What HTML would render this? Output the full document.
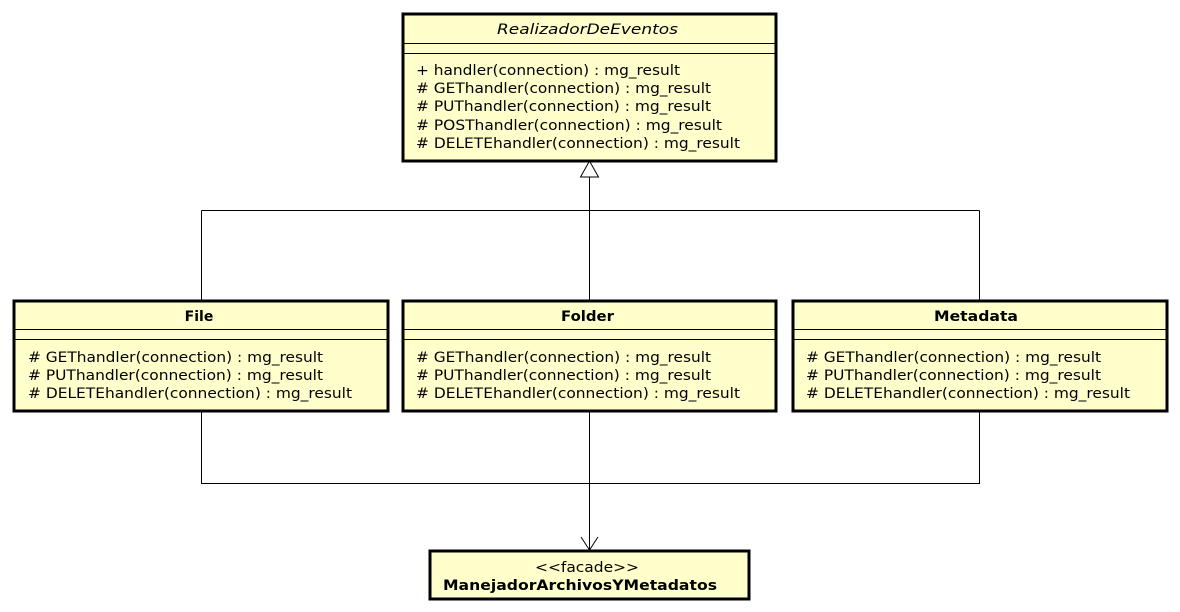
<!DOCTYPE html>
<html><head><meta charset="utf-8"><style>
html,body{margin:0;padding:0;background:#fff;}
svg{display:block;}
text{font-family:"DejaVu Sans","Liberation Sans",sans-serif;font-size:14px;fill:#000;}
.b{font-weight:bold;}
</style></head><body>
<svg width="1180" height="612" xmlns="http://www.w3.org/2000/svg">
<g fill="none" stroke="#000" stroke-width="1">
<path d="M589.5 177V210.5M201.5 210.5H979.5M201.5 210.5V300M589.5 210.5V300M979.5 210.5V300"/>
<path d="M201.5 411V483.5H979.5V411M589.5 411V550"/>
<path d="M581 537L589.5 550L598 537"/>
</g>
<polygon points="589.5,161 580.5,177 598.5,177" fill="#fff" stroke="#000"/>
<g fill="#ffffcc" stroke="#000" stroke-width="3">
<rect x="403" y="14" width="373" height="147"/>
<rect x="14" y="301" width="374" height="110"/>
<rect x="403" y="301" width="373" height="110"/>
<rect x="793" y="301" width="374" height="110"/>
<rect x="430" y="551" width="319" height="48"/>
</g>
<g stroke="#000" stroke-width="1">
<path d="M403 43.5H776M403 53.5H776"/>
<path d="M14 329.5H388M14 339.5H388M403 329.5H776M403 339.5H776M793 329.5H1167M793 339.5H1167"/>
</g>
<text x="497" y="34" font-style="italic" textLength="181" lengthAdjust="spacingAndGlyphs">RealizadorDeEventos</text>
<text x="416" y="75" textLength="264" lengthAdjust="spacingAndGlyphs">+ handler(connection) : mg_result</text>
<text x="416" y="93" textLength="295" lengthAdjust="spacingAndGlyphs">#&#160;GEThandler(connection) : mg_result</text>
<text x="416" y="111" textLength="295" lengthAdjust="spacingAndGlyphs">#&#160;PUThandler(connection) : mg_result</text>
<text x="416" y="130" textLength="306" lengthAdjust="spacingAndGlyphs">#&#160;POSThandler(connection) : mg_result</text>
<text x="416" y="148" textLength="324" lengthAdjust="spacingAndGlyphs">#&#160;DELETEhandler(connection) : mg_result</text>

<text x="199" y="321" class="b" text-anchor="middle">File</text>
<text x="28" y="362" textLength="295" lengthAdjust="spacingAndGlyphs">#&#160;GEThandler(connection) : mg_result</text>
<text x="28" y="380" textLength="295" lengthAdjust="spacingAndGlyphs">#&#160;PUThandler(connection) : mg_result</text>
<text x="28" y="398" textLength="324" lengthAdjust="spacingAndGlyphs">#&#160;DELETEhandler(connection) : mg_result</text>

<text x="561" y="321" class="b" textLength="53" lengthAdjust="spacingAndGlyphs">Folder</text>
<text x="416" y="362" textLength="295" lengthAdjust="spacingAndGlyphs">#&#160;GEThandler(connection) : mg_result</text>
<text x="416" y="380" textLength="295" lengthAdjust="spacingAndGlyphs">#&#160;PUThandler(connection) : mg_result</text>
<text x="416" y="398" textLength="324" lengthAdjust="spacingAndGlyphs">#&#160;DELETEhandler(connection) : mg_result</text>

<text x="934" y="321" class="b" textLength="84" lengthAdjust="spacingAndGlyphs">Metadata</text>
<text x="806" y="362" textLength="295" lengthAdjust="spacingAndGlyphs">#&#160;GEThandler(connection) : mg_result</text>
<text x="806" y="380" textLength="295" lengthAdjust="spacingAndGlyphs">#&#160;PUThandler(connection) : mg_result</text>
<text x="806" y="398" textLength="324" lengthAdjust="spacingAndGlyphs">#&#160;DELETEhandler(connection) : mg_result</text>

<text x="535" y="572" textLength="104" lengthAdjust="spacingAndGlyphs">&lt;&lt;facade&gt;&gt;</text>
<text x="443" y="590" class="b" textLength="274" lengthAdjust="spacingAndGlyphs">ManejadorArchivosYMetadatos</text>
</svg>
</body></html>
